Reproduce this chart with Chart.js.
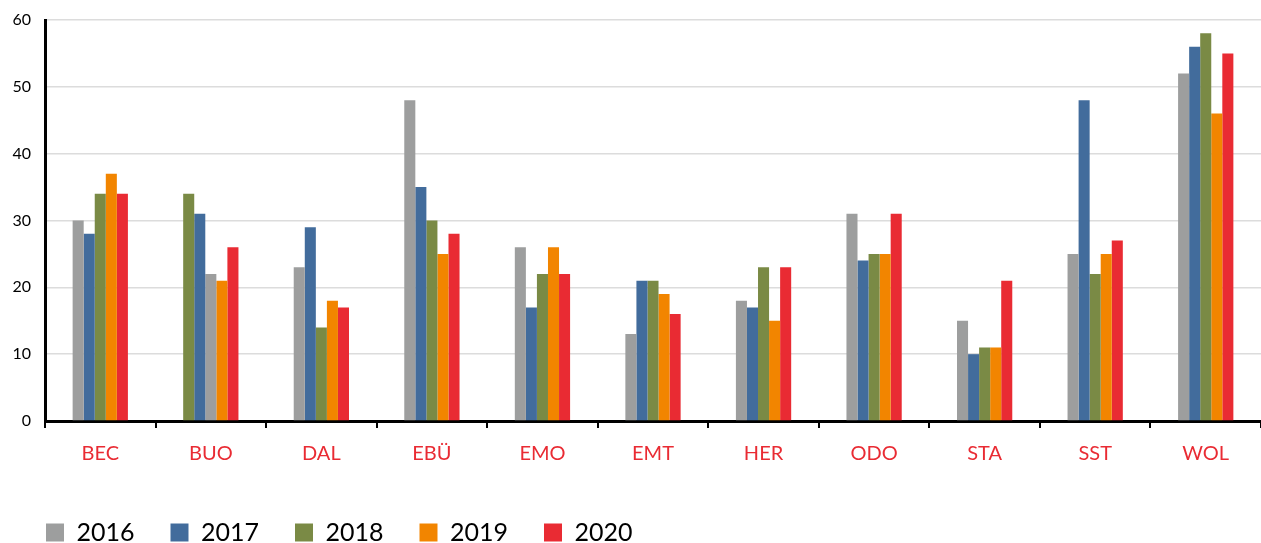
<!DOCTYPE html>
<html>
<head>
<meta charset="utf-8">
<script src="https://cdn.jsdelivr.net/npm/chart.js@4"></script>
<style>
  html, body { margin: 0; padding: 0; background: #fff; }
  #wrap { width: 1261px; height: 543px; }
</style>
</head>
<body>
<div id="wrap"><canvas id="barChart"></canvas></div>
<script>
// Kategorien und Werte
const categories = ['BEC', 'BUO', 'DAL', 'EBÜ', 'EMO', 'EMT', 'HER', 'ODO', 'STA', 'SST', 'WOL'];
const years = ['2016', '2017', '2018', '2019', '2020'];
const values2016 = [30, 34, 23, 48, 26, 13, 18, 31, 15, 25, 52];
const values2017 = [28, 31, 29, 35, 17, 21, 17, 24, 10, 48, 56];
const values2018 = [34, 22, 14, 30, 22, 21, 23, 25, 11, 22, 58];
const values2019 = [37, 21, 18, 25, 26, 19, 15, 25, 11, 25, 46];
const values2020 = [34, 26, 17, 28, 22, 16, 23, 31, 21, 27, 55];
const yTicks = [0, 10, 20, 30, 40, 50, 60];

const colors = ['#9d9e9e', '#426c9c', '#7a8a45', '#f28500', '#e92b33'];

// bei BUO sind im Original die Farben von 2016 und 2018 vertauscht
function barColors(idx) {
    return categories.map((c, i) => {
        if (c === 'BUO' && idx === 0) return colors[2];
        if (c === 'BUO' && idx === 2) return colors[0];
        return colors[idx];
    });
}

const allValues = [values2016, values2017, values2018, values2019, values2020];
const datasets = years.map((y, i) => ({
    label: y,
    data: allValues[i],
    backgroundColor: barColors(i),
    borderWidth: 0,
    categoryPercentage: 0.5,
    barPercentage: 1.0
}));

const legendPad = 36;

const ctx = document.getElementById('barChart').getContext('2d');
const chart = new Chart(ctx, {
    type: 'bar',
    data: { labels: categories, datasets: datasets },
    options: {
        responsive: true,
        maintainAspectRatio: false,
        animation: false,
        layout: { padding: { top: 20, right: 0, left: 10, bottom: -12 } },
        plugins: {
            tooltip: { enabled: false },
            legend: {
                position: 'bottom',
                align: 'start',
                labels: {
                    boxWidth: 18,
                    boxHeight: 18,
                    padding: legendPad,
                    color: '#000',
                    font: { family: 'Lato', size: 25 },
                    generateLabels: () => years.map((y, i) => ({
                        text: y,
                        fillStyle: colors[i],
                        strokeStyle: colors[i],
                        lineWidth: 0,
                        datasetIndex: i
                    }))
                }
            }
        },
        scales: {
            x: {
                afterFit: (scale) => { scale.height = 63; },
                border: { color: '#000', width: 3 },
                grid: {
                    offset: true,
                    drawOnChartArea: false,
                    drawTicks: true,
                    tickLength: 7,
                    color: '#000',
                    lineWidth: 2
                },
                ticks: {
                    color: '#e92b33',
                    padding: 14,
                    font: { family: 'Lato', size: 20 }
                }
            },
            y: {
                min: 0,
                max: 60,
                afterFit: (scale) => {
                    scale.width = 35;
                    scale.paddingTop = 0;
                    scale.paddingBottom = 0;
                },
                afterBuildTicks: (scale) => { scale.ticks = yTicks.map(v => ({ value: v })); },
                border: { color: '#000', width: 3 },
                grid: { color: '#dcdcdc', lineWidth: 1.5, drawTicks: false },
                ticks: {
                    color: '#000',
                    padding: 14,
                    font: { family: 'Lato', size: 16 }
                }
            }
        }
    }
});
</script>
</body>
</html>
